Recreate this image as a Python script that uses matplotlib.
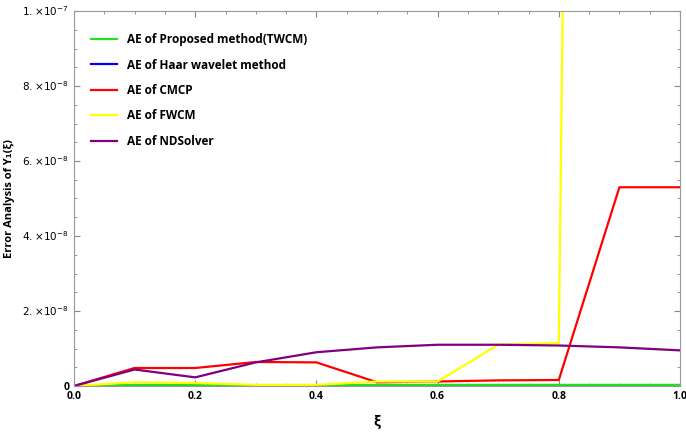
import matplotlib
matplotlib.use('Agg')
import matplotlib.pyplot as plt
from matplotlib.ticker import MultipleLocator, FuncFormatter

xi = [0.0, 0.1, 0.2, 0.3, 0.4, 0.5, 0.6, 0.7, 0.8, 0.9, 1.0]

ae_twcm = [0.0, 0.03e-8, 0.03e-8, 0.02e-8, 0.02e-8, 0.03e-8, 0.03e-8, 0.03e-8, 0.03e-8, 0.03e-8, 0.03e-8]
ae_haar = [0.0, 0.02e-8, 0.02e-8, 0.01e-8, 0.01e-8, 0.02e-8, 0.02e-8, 0.02e-8, 0.02e-8, 0.02e-8, 0.02e-8]
ae_cmcp = [0.0, 0.48e-8, 0.48e-8, 0.64e-8, 0.63e-8, 0.10e-8, 0.12e-8, 0.15e-8, 0.16e-8, 5.3e-8, 5.3e-8]
ae_fwcm = [0.0, 0.10e-8, 0.08e-8, 0.03e-8, 0.03e-8, 0.12e-8, 0.12e-8, 1.1e-8, 1.15e-8, 140e-8, 140e-8]
ae_ndsolver = [0.0, 0.44e-8, 0.23e-8, 0.63e-8, 0.90e-8, 1.03e-8, 1.10e-8, 1.10e-8, 1.08e-8, 1.03e-8, 0.95e-8]

series = [
    ('AE of Proposed method(TWCM)', ae_twcm, '#22e022'),
    ('AE of Haar wavelet method', ae_haar, '#0000ff'),
    ('AE of CMCP', ae_cmcp, '#ff0000'),
    ('AE of FWCM', ae_fwcm, '#ffff00'),
    ('AE of NDSolver', ae_ndsolver, '#800080'),
]

plt.rcParams['font.family'] = ['Open Sans', 'DejaVu Sans']
plt.rcParams['mathtext.fontset'] = 'dejavusans'

fig = plt.figure(figsize=(6.86, 4.32), dpi=100)
ax = fig.add_axes([74 / 686, 46 / 432, 606 / 686, 375 / 432])

# Haar first so the green line lies on top of it
order = [1, 0, 2, 3, 4]
handles = {}
for i in order:
    name, vals, col = series[i]
    h, = ax.plot(xi, vals, color=col, lw=1.6, label=name)
    handles[i] = h

ax.set_xlim(0, 1)
ax.set_ylim(0, 1e-7)

ax.xaxis.set_major_locator(MultipleLocator(0.2))
ax.xaxis.set_minor_locator(MultipleLocator(0.05))
ax.yaxis.set_major_locator(MultipleLocator(2e-8))
ax.yaxis.set_minor_locator(MultipleLocator(0.5e-8))


def yfmt(v, pos):
    if abs(v) < 1e-12:
        return '0'
    exp = -8 if v < 0.99e-7 else -7
    m = v / 10 ** exp
    return r'$%d.\!\times\!10^{%d}$' % (round(m), exp)


ax.yaxis.set_major_formatter(FuncFormatter(yfmt))
ax.xaxis.set_major_formatter(FuncFormatter(lambda v, p: '%.1f' % v))

ax.tick_params(which='both', direction='in', top=True, right=True, color='#888888')
ax.tick_params(which='major', length=4, width=0.8, labelsize=7.5)
ax.tick_params(which='minor', length=2.5, width=0.6)
for lab in ax.get_xticklabels() + ax.get_yticklabels():
    lab.set_fontweight('bold')
for sp in ax.spines.values():
    sp.set_color('#999999')
    sp.set_linewidth(0.8)

ax.set_xlabel('ξ', fontsize=10, fontweight='bold', labelpad=9)
ax.set_ylabel('Error Analysis of Y₁(ξ)', fontsize=8, fontweight='bold')
ax.yaxis.set_label_coords(-0.098, 0.5)

ax.legend([handles[i] for i in range(5)], [s[0] for s in series],
          loc='upper left', bbox_to_anchor=(0.0, 0.985), frameon=False,
          prop={'weight': 'bold', 'size': 8.5}, handlelength=2.2,
          labelspacing=1.05, handletextpad=0.9, borderaxespad=1.0)

fig.savefig('out.png', dpi=100)
